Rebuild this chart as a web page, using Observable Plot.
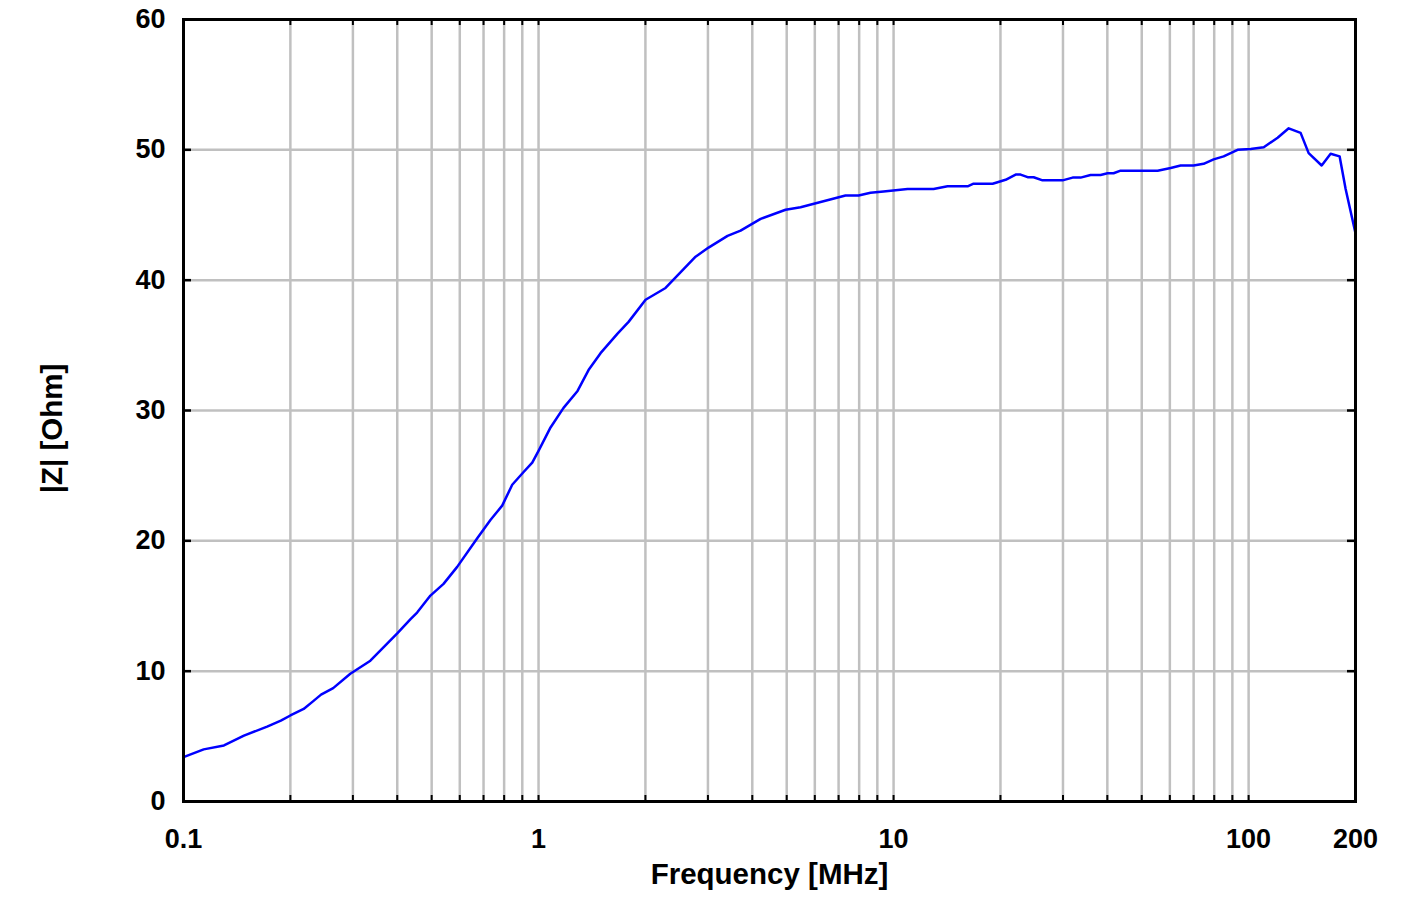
<!DOCTYPE html>
<html>
<head>
<meta charset="utf-8">
<script src="https://cdn.jsdelivr.net/npm/d3@7"></script>
<script src="https://cdn.jsdelivr.net/npm/@observablehq/plot@0.6"></script>
<style>
  html, body { margin: 0; padding: 0; background: #ffffff; }
  #chart svg { display: block; }
</style>
</head>
<body>
<div id="chart"></div>
<script>
// Frequency in MHz
const freq = [0.1, 0.114, 0.13, 0.148, 0.172, 0.188, 0.2, 0.218, 0.232, 0.244, 0.264, 0.295, 0.336, 0.4,
  0.436, 0.455, 0.496, 0.54, 0.59, 0.672, 0.732, 0.79, 0.843, 0.909, 0.96, 1.0, 1.081, 1.176, 1.288,
  1.383, 1.495, 1.669, 1.793, 2.002, 2.279, 2.769, 3.012, 3.407, 3.707, 4.222, 4.964, 5.47, 6.23,
  7.32, 7.97, 8.61, 9.37, 10.95, 12.96, 14.19, 16.16, 16.8, 19.01, 20.68, 22.07, 22.79, 23.85, 24.8,
  26.28, 29.92, 31.93, 33.63, 35.88, 38.28, 40.06, 41.65, 43.59, 55.43, 60.31, 64.35, 69.99, 74.68,
  79.69, 85.05, 93.1, 101.3, 110.3, 120.7, 129.7, 140.1, 147.6, 160.6, 170.2, 180.4, 187.6, 200];
// Impedance magnitude |Z| in Ohm
const impedance = [3.4, 4.0, 4.3, 5.05, 5.75, 6.2, 6.6, 7.1, 7.7, 8.2, 8.7, 9.8, 10.8, 12.9,
  14.0, 14.5, 15.8, 16.7, 18.0, 20.2, 21.6, 22.7, 24.3, 25.3, 26.0, 26.9, 28.7, 30.2, 31.5,
  33.1, 34.4, 35.9, 36.8, 38.5, 39.4, 41.8, 42.5, 43.4, 43.8, 44.7, 45.4, 45.6, 46.0,
  46.5, 46.5, 46.7, 46.8, 47.0, 47.0, 47.2, 47.2, 47.4, 47.4, 47.7, 48.1, 48.1, 47.9, 47.9,
  47.66, 47.66, 47.87, 47.87, 48.07, 48.07, 48.2, 48.2, 48.4, 48.4, 48.6, 48.8, 48.8, 48.93,
  49.27, 49.5, 50.0, 50.06, 50.2, 50.93, 51.65, 51.3, 49.75, 48.8, 49.7, 49.5, 47.0, 43.6];

const xTickLabels = [0.1, 1, 10, 100, 200];
const yTickLabels = [0, 10, 20, 30, 40, 50, 60];
const xGrid = [0.2, 0.3, 0.4, 0.5, 0.6, 0.7, 0.8, 0.9, 1, 2, 3, 4, 5, 6, 7, 8, 9, 10,
  20, 30, 40, 50, 60, 70, 80, 90, 100];
const yGrid = [10, 20, 30, 40, 50];
const xLabel = "Frequency [MHz]";
const yLabel = "|Z| [Ohm]";

const data = freq.map((f, i) => ({f, z: impedance[i]}));

const W = 1420, H = 899;
const mTop = 19, mRight = 65, mBottom = 98, mLeft = 183;
const innerW = W - mLeft - mRight, innerH = H - mTop - mBottom;
const font = "'Liberation Sans', Arial, Helvetica, sans-serif";

const chart = Plot.plot({
  width: W,
  height: H,
  marginTop: mTop,
  marginRight: mRight,
  marginBottom: mBottom,
  marginLeft: mLeft,
  style: {fontFamily: font, background: "#ffffff", color: "#000000"},
  x: {type: "log", domain: [0.1, 200]},
  y: {domain: [0, 60]},
  marks: [
    Plot.ruleX(xGrid, {x: d => d, stroke: "#c0c0c0", strokeWidth: 2.5}),
    Plot.ruleY(yGrid, {y: d => d, stroke: "#c0c0c0", strokeWidth: 2.5}),
    // inward tick marks
    Plot.tickX(xGrid, {x: d => d, stroke: "#000", strokeWidth: 2, insetTop: innerH - 6}),
    Plot.tickX(xGrid, {x: d => d, stroke: "#000", strokeWidth: 2, insetBottom: innerH - 6}),
    Plot.tickY(yGrid, {y: d => d, stroke: "#000", strokeWidth: 2.5, insetRight: innerW - 8}),
    Plot.tickY(yGrid, {y: d => d, stroke: "#000", strokeWidth: 2.5, insetLeft: innerW - 8}),
    Plot.line(data, {x: "f", y: "z", stroke: "#0000ff", strokeWidth: 2.5}),
    Plot.frame({stroke: "#000", strokeWidth: 3}),
    Plot.axisX({
      anchor: "bottom", ticks: xTickLabels, tickFormat: d => String(d),
      tickSize: 0, tickPadding: 27, fontSize: 27, fontWeight: "bold", label: null
    }),
    Plot.axisY({
      anchor: "left", ticks: yTickLabels, tickFormat: d => String(d),
      tickSize: 0, tickPadding: 18, fontSize: 27, fontWeight: "bold", label: null
    }),
    Plot.text([xLabel], {
      text: d => d, frameAnchor: "bottom", dy: 82, lineAnchor: "bottom",
      fontSize: 29.5, fontWeight: "bold", fill: "#000"
    }),
    Plot.text([yLabel], {
      text: d => d, frameAnchor: "left", dx: -131, dy: 18, rotate: -90,
      textAnchor: "middle", lineAnchor: "middle", fontSize: 29.5, fontWeight: "bold", fill: "#000"
    })
  ]
});

document.getElementById("chart").appendChild(chart);
</script>
</body>
</html>
